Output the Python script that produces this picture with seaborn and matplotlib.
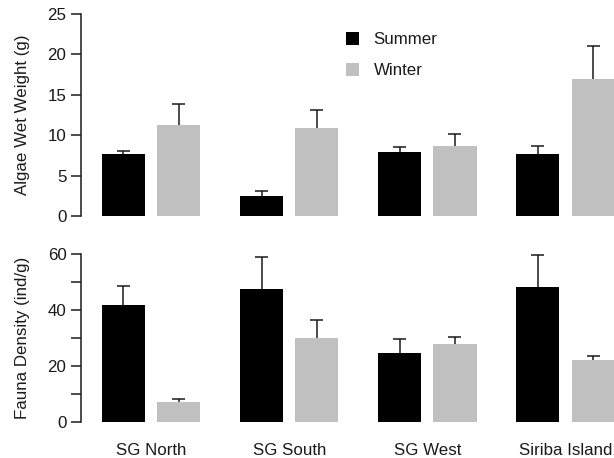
import numpy as np
import pandas as pd
import matplotlib
matplotlib.use("Agg")
import matplotlib.pyplot as plt
import seaborn as sns
from matplotlib.patches import Patch

sites = ["SG North", "SG South", "SG West", "Siriba Island"]
seasons = ["Summer", "Winter"]

algae_summer = [7.7, 2.5, 7.9, 7.7]
algae_winter = [11.3, 10.9, 8.7, 17.0]
algae_summer_err = [0.4, 0.6, 0.6, 1.0]
algae_winter_err = [2.6, 2.2, 1.4, 4.0]

fauna_summer = [41.8, 47.5, 24.6, 48.2]
fauna_winter = [7.1, 30.0, 27.9, 22.1]
fauna_summer_err = [6.8, 11.4, 5.0, 11.6]
fauna_winter_err = [1.1, 6.4, 2.6, 1.5]

colors = {"Summer": "#000000", "Winter": "#c0c0c0"}
text_color = "#1a1a1a"
FS = 12.2

sns.set_style("white")
plt.rcParams["font.family"] = ["Liberation Sans", "DejaVu Sans"]
plt.rcParams["text.color"] = text_color
plt.rcParams["axes.labelcolor"] = text_color
plt.rcParams["xtick.color"] = text_color
plt.rcParams["ytick.color"] = text_color


def make_df(summer, winter, serr, werr):
    rows = []
    for i, s in enumerate(sites):
        rows.append({"site": s, "season": "Summer", "val": summer[i], "err": serr[i]})
        rows.append({"site": s, "season": "Winter", "val": winter[i], "err": werr[i]})
    return pd.DataFrame(rows)


fig = plt.figure(figsize=(6.14, 4.58), dpi=100)
ax1 = fig.add_axes([0.1319, 0.5284, 0.8681, 0.4410])
ax2 = fig.add_axes([0.1319, 0.0786, 0.8681, 0.3668])


def draw(ax, df, ylim, yticks, ylabels, ylabel, show_x):
    sns.barplot(data=df, x="site", y="val", hue="season", order=sites,
                hue_order=seasons, palette=colors, width=0.8, gap=0.22,
                errorbar=None, saturation=1, ax=ax, legend=False,
                linewidth=0, zorder=2)
    # error bars (upper only), positioned from seaborn's bars
    cw = 0.047
    for container, season in zip(ax.containers, seasons):
        sub = df[df["season"] == season].set_index("site").loc[sites]
        xs = np.array([p.get_x() + p.get_width() / 2 for p in container.patches])
        ys = sub["val"].values
        es = sub["err"].values
        ax.vlines(xs, ys, ys + es, colors="#1a1a1a", linewidth=1.1, zorder=1)
        ax.hlines(ys + es, xs - cw, xs + cw, colors="#1a1a1a", linewidth=1.1,
                  zorder=1)
    ax.set_xlim(-0.507, 3.351)
    ax.set_ylim(*ylim)
    ax.set_yticks(yticks)
    ax.set_yticklabels(ylabels, fontsize=FS)
    ax.spines["left"].set_bounds(yticks[0], yticks[-1])
    ax.spines["left"].set_linewidth(1.1)
    ax.spines["left"].set_color("#1a1a1a")
    for s in ["top", "right", "bottom"]:
        ax.spines[s].set_visible(False)
    ax.tick_params(axis="y", direction="out", length=7, width=1.1, pad=3.5,
                   left=True)
    ax.set_ylabel(ylabel, fontsize=FS, labelpad=12.5)
    ax.set_xlabel("")
    if show_x:
        ax.tick_params(axis="x", length=0, labelsize=FS, pad=15)
    else:
        ax.set_xticks([])


df_a = make_df(algae_summer, algae_winter, algae_summer_err, algae_winter_err)
df_f = make_df(fauna_summer, fauna_winter, fauna_summer_err, fauna_winter_err)

draw(ax1, df_a, (0, 25), [0, 5, 10, 15, 20, 25],
     ["0", "5", "10", "15", "20", "25"], "Algae Wet Weight (g)", False)
draw(ax2, df_f, (0, 60), [0, 10, 20, 30, 40, 50, 60],
     ["0", "", "20", "", "40", "", "60"], "Fauna Density (ind/g)", True)

for ax in (ax1, ax2):
    for p in ax.patches:
        p.set_clip_on(False)

handles = [Patch(facecolor=colors[s], edgecolor="none", label=s) for s in seasons]
fig.legend(handles=handles, loc="upper left", bbox_to_anchor=(0.552, 0.945),
           frameon=False, fontsize=FS, handlelength=0.8, handleheight=0.8,
           handletextpad=0.85, labelspacing=0.9, borderaxespad=0)

fig.savefig("out.png", dpi=100)
